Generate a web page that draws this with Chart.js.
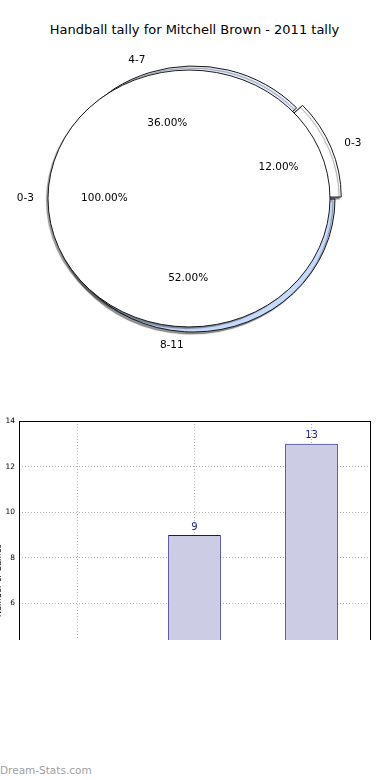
<!DOCTYPE html>
<html>
<head>
<meta charset="utf-8">
<script src="https://cdn.jsdelivr.net/npm/chart.js@4.4.1/dist/chart.umd.min.js"></script>
<style>
    body { margin: 0; width: 390px; height: 780px; overflow: hidden; position: relative; background: #fff; font-family: "DejaVu Sans", sans-serif; }
    #title { position: absolute; top: 22px; left: 0; width: 389px; text-align: center; font-size: 13px; line-height: 15px; color: #000; }
    #pieOuter, #pieInner { position: absolute; left: 0; top: 0; }
    #barBox { position: absolute; left: 0; top: 400px; width: 390px; height: 240px; overflow: hidden; }
    #bars { position: absolute; left: -6px; top: 0; }
    #credit { position: absolute; left: 0; top: 763px; font-size: 10.5px; line-height: 14px; color: #a0a0a0; }
</style>
</head>
<body>
<div id="title">Handball tally for Mitchell Brown - 2011 tally</div>
<canvas id="pieOuter" width="390" height="400"></canvas>
<canvas id="pieInner" width="390" height="400"></canvas>
<div id="barBox"><canvas id="bars" width="396" height="360"></canvas></div>
<div id="credit">Dream-Stats.com</div>
<script>
let tallyLabels = ["0-3", "4-7", "8-11"]
let tallyCounts = [3, 9, 13]
let innerLabels = ["0-3"]
let innerCounts = [3]
let yMin = 0
let yMax = 14
let yStep = 2
let yTitle = "Number of Games"

Chart.defaults.font.family = "'DejaVu Sans', sans-serif"

//#region Pie helpers
// matplotlib pie is squashed vertically, so scale the arcs around their centre
let squash = {
    id: "squash",
    beforeDatasetsDraw: (chart, args, opts) => {
        let arc = chart.getDatasetMeta(0).data[0]
        let ctx = chart.ctx
        ctx.save()
        ctx.translate(arc.x, arc.y)
        ctx.scale(1, opts.sy)
        ctx.translate(-arc.x, -arc.y)
        ctx.shadowColor = "rgba(0,0,0,0.4)"
        ctx.shadowOffsetX = -2
        ctx.shadowOffsetY = 2
        ctx.shadowBlur = 1
    },
    afterDatasetsDraw: (chart, args, opts) => {
        let ctx = chart.ctx
        if (opts.ring) {
            // full 100% slice: outline only the rim (Chart.js would add a radius line)
            let arc = chart.getDatasetMeta(0).data[0]
            ctx.shadowColor = "transparent"
            ctx.strokeStyle = "#111"
            ctx.lineWidth = 1
            ctx.beginPath()
            ctx.arc(arc.x, arc.y, arc.outerRadius, 0, Math.PI * 2)
            ctx.stroke()
        }
        ctx.restore()
    }
}

DrawPieLabels = (ctx, chart) => {
    let sy = chart.options.plugins.squash.sy
    let values = chart.data.datasets[0].data
    let names = chart.data.labels
    let total = values.reduce((a, b) => a + b, 0)
    chart.getDatasetMeta(0).data.forEach((arc, i) => {
        let mid = (arc.startAngle + arc.endAngle) / 2
        let push = (arc.options.offset || 0) / 4 * (2 - Math.sin(Math.min(Math.PI, arc.endAngle - arc.startAngle)))
        let cos = Math.cos(mid), sin = Math.sin(mid)
        let at = k => [arc.x + (k * arc.outerRadius + push) * cos, arc.y + (k * arc.outerRadius + push) * sin * sy]

        ctx.save()
        ctx.font = "10.5px 'DejaVu Sans'"
        ctx.fillStyle = "#000"
        ctx.textBaseline = "middle"

        let [lx, ly] = at(1.1)
        ctx.textAlign = cos < 0 ? "right" : "left"
        ctx.fillText(names[i], lx, ly)

        let [px, py] = at(0.6)
        ctx.textAlign = "center"
        ctx.fillText((values[i] / total * 100).toFixed(2) + "%", px, py)
        ctx.restore()
    })
}
//#endregion

//#region Pies
// Chart.js goes clockwise, matplotlib counter-clockwise: reverse the slices
let pieLabels = tallyLabels.slice().reverse()
let pieCounts = tallyCounts.slice().reverse()

let outerPie = new Chart("pieOuter", {
    type: "pie",
    data: {
        labels: pieLabels,
        datasets: [{
            data: pieCounts,
            backgroundColor: ["#c6dafc", "#e6edfc", "#ffffff"],
            borderColor: "#111",
            borderWidth: 1,
            offset: pieLabels.map(l => l == "0-3" ? 20 : 0)
        }]
    },
    options: {
        responsive: false,
        animation: false,
        events: [],
        rotation: 90,
        radius: 141.5,
        layout: { padding: { left: 0, right: 3, top: 0, bottom: 2 } },
        plugins: { legend: { display: false }, tooltip: { enabled: false }, squash: { sy: 0.94 } }
    },
    plugins: [squash]
})

new Chart("pieInner", {
    type: "pie",
    data: {
        labels: innerLabels,
        datasets: [{
            data: innerCounts,
            backgroundColor: "#ffffff",
            borderWidth: 0
        }]
    },
    options: {
        responsive: false,
        animation: false,
        events: [],
        rotation: 90,
        radius: 141,
        layout: { padding: { left: 0, right: 12, top: 0, bottom: 3 } },
        plugins: { legend: { display: false }, tooltip: { enabled: false }, squash: { sy: 0.911, ring: true } }
    },
    plugins: [squash, {
        id: "pieLabels",
        afterDraw: chart => {
            DrawPieLabels(chart.ctx, outerPie)
            DrawPieLabels(chart.ctx, chart)
        }
    }]
})
//#endregion

//#region Bars
let frame = {
    id: "frame",
    afterDatasetsDraw: chart => {
        let { left, right, top, bottom } = chart.chartArea
        let ctx = chart.ctx
        ctx.save()
        ctx.strokeStyle = "#000"
        ctx.lineWidth = 1
        ctx.strokeRect(Math.round(left) + 0.5, Math.round(top) + 0.5, Math.round(right - left), Math.round(bottom - top))
        ctx.restore()
    }
}

let barValues = {
    id: "barValues",
    afterDraw: chart => {
        let ctx = chart.ctx
        ctx.save()
        ctx.font = "10px 'DejaVu Sans'"
        ctx.fillStyle = "#1c1c8c"
        ctx.textAlign = "center"
        ctx.textBaseline = "bottom"
        chart.getDatasetMeta(0).data.forEach((bar, i) => {
            ctx.fillText(chart.data.datasets[0].data[i], bar.x, bar.y - 3)
        })
        ctx.restore()
    }
}

let gridStyle = { color: "#b0b0b0", lineWidth: 1, drawTicks: false }

new Chart("bars", {
    type: "bar",
    data: {
        labels: tallyLabels,
        datasets: [{
            data: tallyCounts,
            backgroundColor: "#ccccE4",
            borderColor: "#14148a",
            borderWidth: 1,
            barPercentage: 0.45,
            categoryPercentage: 1
        }]
    },
    options: {
        responsive: false,
        animation: false,
        events: [],
        layout: { padding: { left: 0, right: 20, top: 21, bottom: 0 } },
        plugins: { legend: { display: false }, tooltip: { enabled: false } },
        scales: {
            x: {
                grid: { ...gridStyle, offset: false },
                border: { display: false, dash: [1, 2] },
                ticks: { color: "#000", font: { size: 8 } },
                afterFit: scale => { scale.height = 20 }
            },
            y: {
                min: yMin,
                max: yMax,
                grid: gridStyle,
                border: { display: false, dash: [1, 2] },
                ticks: { stepSize: yStep, padding: 4, color: "#000", font: { size: 7.5 } },
                title: { display: true, text: yTitle, padding: 0, color: "#000", font: { size: 8 } },
                afterFit: scale => { scale.width = 25 }
            }
        }
    },
    plugins: [frame, barValues]
})
//#endregion
</script>
</body>
</html>
